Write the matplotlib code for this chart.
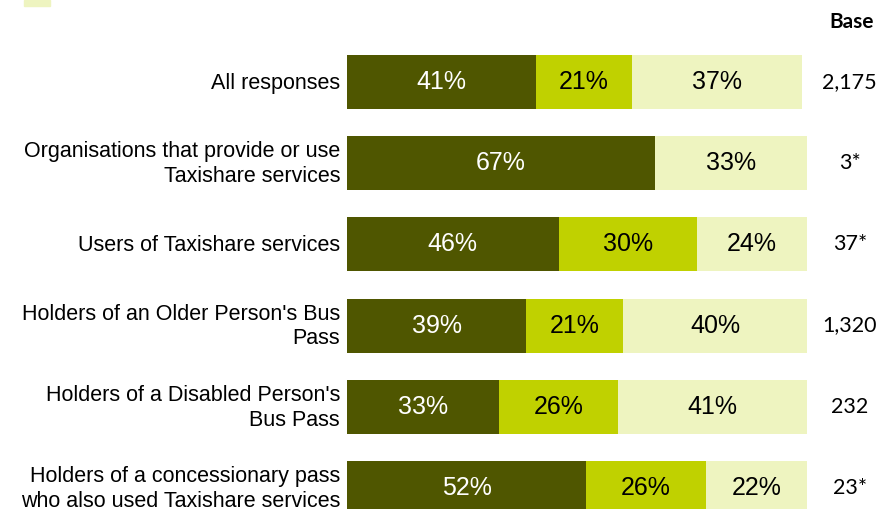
import matplotlib.pyplot as plt
import matplotlib.transforms as mtransforms
from matplotlib.patches import Rectangle
import numpy as np

categories = [
    "All responses",
    "Organisations that provide or use\nTaxishare services",
    "Users of Taxishare services",
    "Holders of an Older Person's Bus\nPass",
    "Holders of a Disabled Person's\nBus Pass",
    "Holders of a concessionary pass\nwho also used Taxishare services",
]
part1 = [41, 67, 46, 39, 33, 52]
part2 = [21, 0, 30, 21, 26, 26]
part3 = [37, 33, 24, 40, 41, 22]
bases = ["2,175", "3*", "37*", "1,320", "232", "23*"]

colours = ["#4f5600", "#c0d100", "#eef4c0"]
text_colours = ["white", "black", "black"]

fig = plt.figure(figsize=(8.83, 5.09), dpi=100)
ax = fig.add_axes([347 / 883, 0, 460 / 883, 1])

y = np.arange(len(categories))
left = np.zeros(len(categories))
for vals, col, tcol in zip([part1, part2, part3], colours, text_colours):
    vals = np.array(vals)
    ax.barh(y, vals, left=left, height=0.665, color=col, edgecolor="none")
    for yi, l, v in zip(y, left, vals):
        if v > 0:
            ax.text(l + v / 2, yi, f"{v}%", ha="center", va="center",
                    color=tcol, fontsize=18, family="Liberation Sans")
    left += vals

# category names, right-aligned just left of the bars
shift = mtransforms.offset_copy(ax.transData, fig=fig, x=-7, y=-1, units="dots")
for yi, name in zip(y, categories):
    ax.text(0, yi, name, ha="right", va="center", fontsize=15.5,
            family="Liberation Sans", linespacing=1.22, clip_on=False,
            transform=shift)

# base sizes to the right of the bars
for yi, b in zip(y, bases):
    ax.text(109.3, yi, b, ha="center", va="center", fontsize=15.5,
            family="Lato", clip_on=False)
ax.text(109.8, -0.74, "Base", ha="center", va="center", fontsize=15,
        fontweight="bold", family="Lato", clip_on=False)

ax.set_yticks([])
ax.set_xticks([])
ax.set_xlim(0, 100)
ax.set_ylim(5.259, -1.01)
for s in ax.spines.values():
    s.set_visible(False)

# legend swatch at the top edge
fig.patches.append(Rectangle((24 / 883, 1 - 6 / 509), 26 / 883, 6 / 509,
                             transform=fig.transFigure, color=colours[2]))

fig.savefig("out.png", dpi=100)
